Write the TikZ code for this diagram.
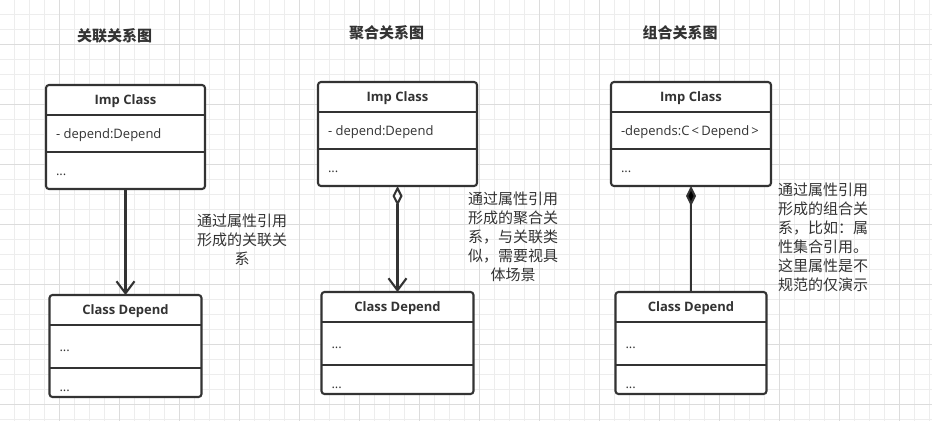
\documentclass[tikz,border=0pt]{standalone}
\usepackage{fontspec}
\setmainfont{Open Sans}
\newfontfamily\cjk{Noto Sans CJK SC}
\usepackage{tikz}
\usetikzlibrary{arrows.meta,positioning,shapes.multipart}
\tikzset{>/.tip={Straight Barb[length=12pt,width=18pt]}}
\tikzset{od/.tip={Diamond[open,length=20pt,width=10pt]}}
\tikzset{fd/.tip={Diamond[length=20pt,width=10pt]}}
\definecolor{ink}{HTML}{333333}
\definecolor{gridminor}{HTML}{EDEDED}
\definecolor{gridmajor}{HTML}{DCDCDC}
\newcommand\headrow{\rule[-10.5pt]{0pt}{30pt}}
\newcommand\fieldrow{\rule[-14pt]{0pt}{37pt}}
\newcommand\tallrow{\rule[-17pt]{0pt}{43pt}}
\newcommand\lowrow{\rule[-6pt]{0pt}{29pt}}
\tikzset{
  frame/.style={draw=ink, line width=2.1pt, rounded corners=3pt},
  umlclass/.style={line width=0pt,
    rectangle split, rectangle split parts=3,
    rectangle split part align={center,left,left},
    inner ysep=0pt, inner xsep=10pt, text=ink,
    font=\fontsize{13}{15}\selectfont,
    append after command={\pgfextra{
      \filldraw[frame, fill=white] (\tikzlastnode.north west) rectangle (\tikzlastnode.south east);
      \draw[frame] (\tikzlastnode.text split west) -- (\tikzlastnode.text split east)
        (\tikzlastnode.two split west) -- (\tikzlastnode.two split east);}}},
  title/.style={font=\cjk\bfseries\fontsize{15}{18}\selectfont, text=ink, inner sep=0pt},
  note/.style={font=\cjk\fontsize{15}{19}\selectfont, text=ink, align=center,
    text width=92pt, inner sep=0pt},
  link/.style={draw=ink, line width=2.1pt},
}

\begin{document}
\begin{tikzpicture}[x=1pt,y=-1pt]
  \fill[white] (0,0) rectangle (932,421);
  \useasboundingbox (0,0) rectangle (932,421);
  % grid
  \foreach \x in {14,29,...,929} \draw[gridminor, line width=1pt] (\x,0) -- (\x,421);
  \foreach \y in {14,29,...,419} \draw[gridminor, line width=1pt] (0,\y) -- (932,\y);
  \foreach \x in {59,119,...,899} \draw[gridmajor, line width=1pt] (\x,0) -- (\x,421);
  \foreach \y in {44,104,...,404} \draw[gridmajor, line width=1pt] (0,\y) -- (932,\y);

  % association
  \node[umlclass, minimum width=159pt, anchor=north west] (imp1) at (46,85)
    {\textbf{Imp Class}\headrow \nodepart{two}- depend:Depend\fieldrow \nodepart{three}...\fieldrow};
  \node[umlclass, minimum width=152pt, below=106pt of imp1] (dep1)
    {\textbf{Class Depend}\headrow \nodepart{two}...\tallrow \nodepart{three}...\lowrow};
  \node[title, above=42pt of imp1, xshift=-11pt] (cap1) {关联关系图};
  \node[note, anchor=north] (note1) at (242,214) {通过属性引用\\形成的关联关\\系};

  % aggregation
  \node[umlclass, minimum width=159pt, anchor=north west] (imp2) at (318,82)
    {\textbf{Imp Class}\headrow \nodepart{two}- depend:Depend\fieldrow \nodepart{three}...\fieldrow};
  \node[umlclass, minimum width=152pt, below=106pt of imp2] (dep2)
    {\textbf{Class Depend}\headrow \nodepart{two}...\tallrow \nodepart{three}...\lowrow};
  \node[title, above=42pt of imp2, xshift=-11pt] (cap2) {聚合关系图};
  \node[note, anchor=north] (note2) at (513,192) {通过属性引用\\形成的聚合关\\系，与关联类\\似，需要视具\\体场景};

  % composition
  \node[umlclass, minimum width=160pt, anchor=north west] (imp3) at (611,82)
    {\textbf{Imp Class}\headrow \nodepart{two}-depends:C\,<\,Depend\,>\fieldrow \nodepart{three}...\fieldrow};
  \node[umlclass, minimum width=151pt, below=106pt of imp3] (dep3)
    {\textbf{Class Depend}\headrow \nodepart{two}...\tallrow \nodepart{three}...\lowrow};
  \node[title, above=42pt of imp3, xshift=-11pt] (cap3) {组合关系图};
  \node[note, anchor=north] (note3) at (823,183) {通过属性引用\\形成的组合关\\系，比如：属\\性集合引用。\\这里属性是不\\规范的仅演示};

  \draw[link, ->] (imp1) -- (dep1);
  \draw[link, od->] (imp2) -- (dep2);
  \draw[link, fd-] (imp3) -- (dep3);
\end{tikzpicture}
\end{document}
